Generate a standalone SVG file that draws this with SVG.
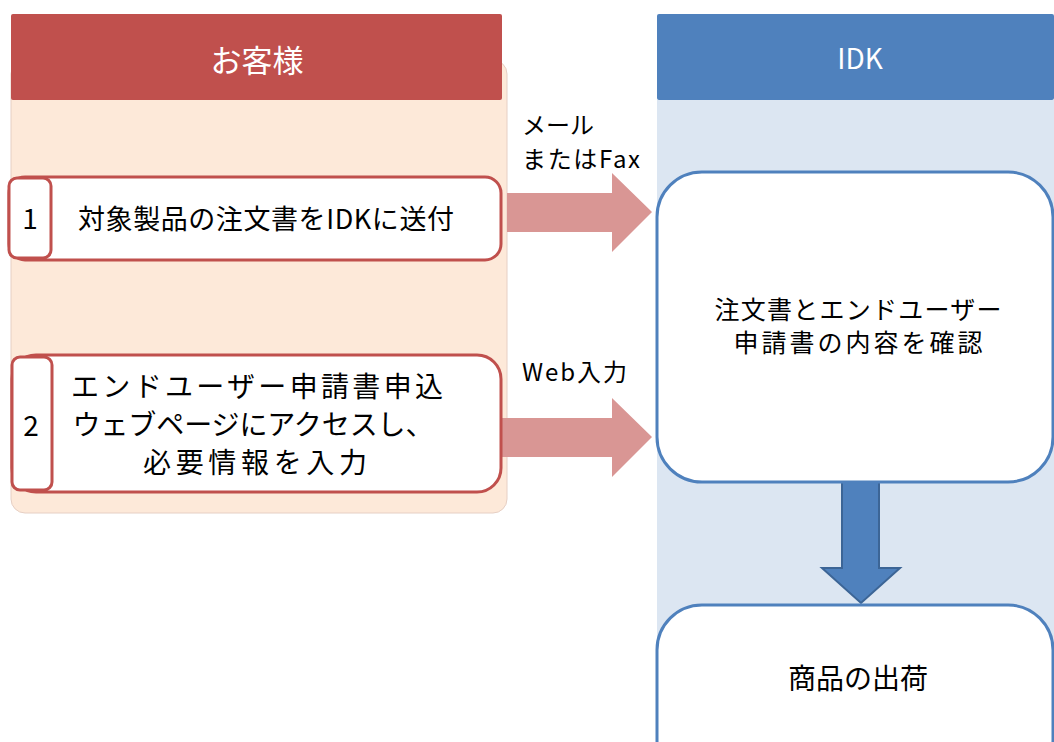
<svg xmlns="http://www.w3.org/2000/svg" width="1054" height="742" viewBox="0 0 1054 742">
<style>
text{font-family:"Noto Sans CJK JP","Noto Sans",sans-serif;fill:#000;text-anchor:middle}
.hdr{fill:#fff}
.rbox{fill:#fff;stroke:#C0504D;stroke-width:3}
.bbox{fill:#fff;stroke:#4F81BD;stroke-width:3}
.pink{fill:#D99694}
</style>
<rect width="1054" height="742" fill="#fff"/>
<g id="lane-customer">
<rect x="11" y="60" width="496" height="453" rx="14" fill="#FDE9D9" stroke="#E6CFC4" stroke-width="1"/>
<rect x="11" y="14" width="491" height="86" rx="2" fill="#C0504D"/>
<text class="hdr" x="257" y="72" font-size="31">お客様</text>
</g>
<g id="lane-idk">
<rect x="657" y="100" width="397" height="642" fill="#DCE6F2"/>
<rect x="657" y="14" width="397" height="86" rx="2" fill="#4F81BD"/>
<text class="hdr" x="860" y="69" font-size="28">IDK</text>
</g>
<g id="connectors">
<polygon class="pink" points="507,193 612,193 612,173 652,212 612,252 612,232 507,232"/>
<polygon class="pink" points="500,418 612,418 612,398 652,437 612,477 612,457 500,457"/>
<polygon points="842,482 879,482 879,568 900,568 861,603 822,568 842,568" fill="#4F81BD" stroke="#3C6596" stroke-width="2"/>
<text x="522" y="134" font-size="24" style="text-anchor:start">メール</text>
<text x="522" y="168" font-size="24" textLength="118" style="text-anchor:start">またはFax</text>
<text x="522" y="381" font-size="24" textLength="105" style="text-anchor:start">Web入力</text>
</g>
<g id="step1">
<rect class="rbox" x="9" y="177" width="492" height="83" rx="16"/>
<rect class="rbox" x="9" y="178" width="42" height="80" rx="8"/>
<text x="30" y="229" font-size="28">1</text>
<text x="266" y="229" font-size="27" textLength="376">対象製品の注文書をIDKに送付</text>
</g>
<g id="step2">
<rect class="rbox" x="12" y="355" width="489" height="137" rx="24"/>
<rect class="rbox" x="12" y="357" width="40" height="133" rx="8"/>
<text x="31" y="436" font-size="28">2</text>
<text x="257" y="397" font-size="28" textLength="372">エンドユーザー申請書申込</text>
<text x="253" y="435" font-size="28" textLength="361">ウェブページにアクセスし、</text>
<text x="255" y="473" font-size="28" textLength="224">必要情報を入力</text>
</g>
<g id="confirm">
<rect class="bbox" x="657" y="172" width="396" height="310" rx="45"/>
<text x="858" y="319" font-size="25" textLength="287">注文書とエンドユーザー</text>
<text x="858" y="352" font-size="25" textLength="249">申請書の内容を確認</text>
</g>
<g id="ship">
<rect class="bbox" x="657" y="605" width="396" height="180" rx="45"/>
<text x="858" y="689" font-size="28" textLength="140">商品の出荷</text>
</g>
</svg>
